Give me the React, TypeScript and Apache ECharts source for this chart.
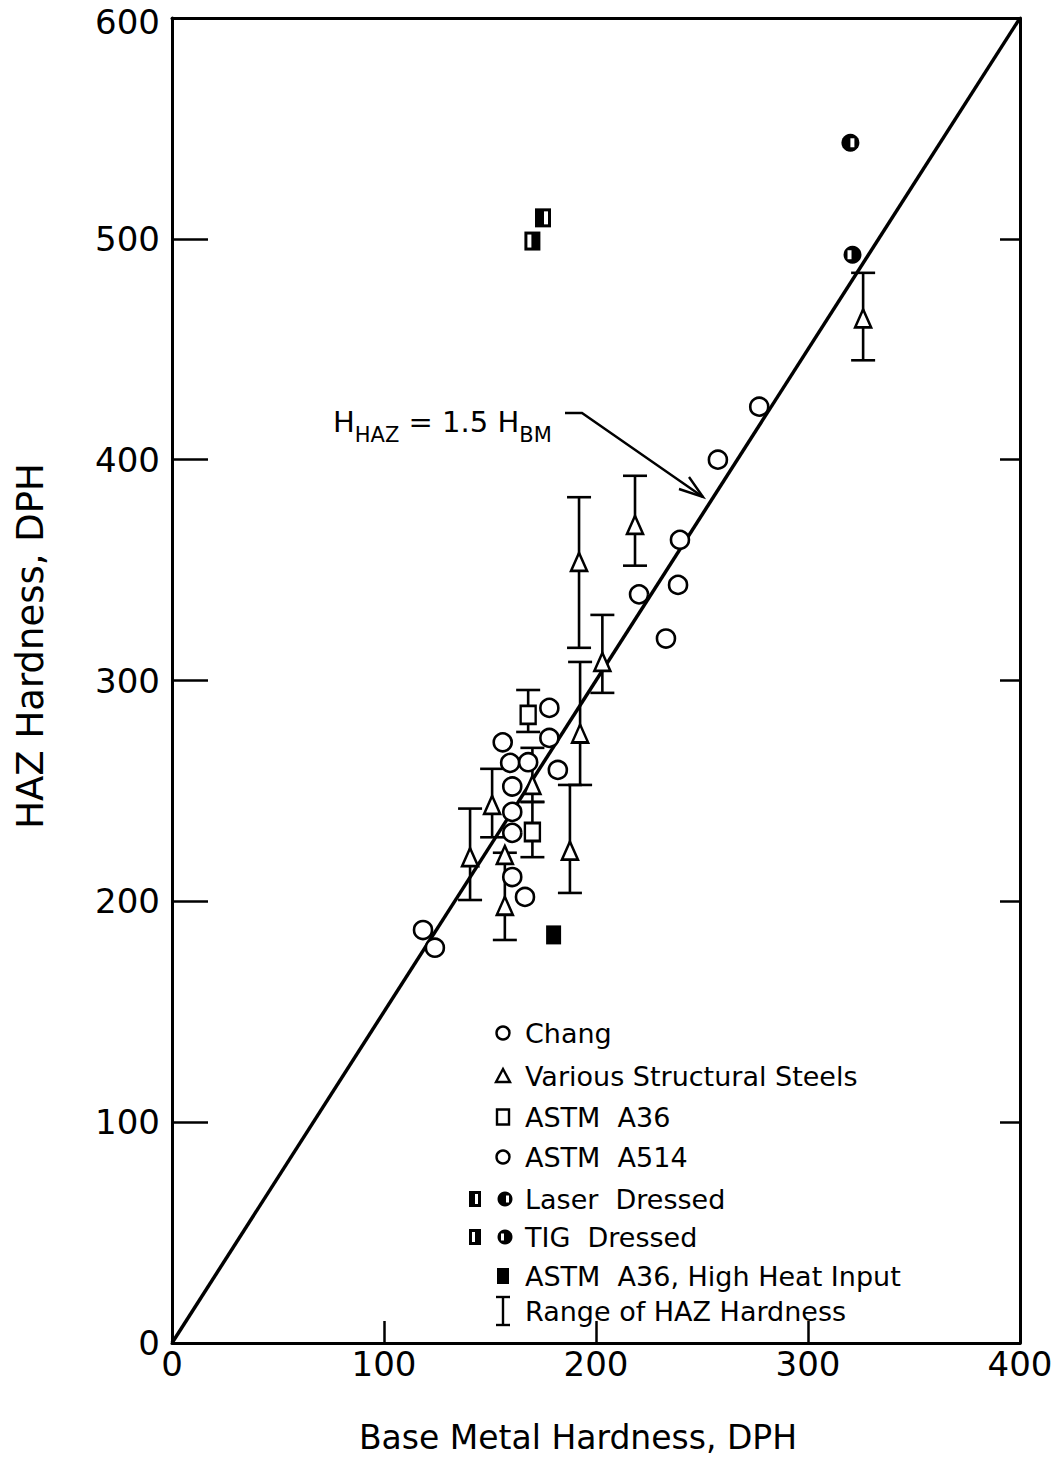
import React, { useEffect, useRef } from "react";
import * as echarts from "echarts";

// ---------- data ----------
const changPts: number[][] = [
  [118.4, 187], [124, 179], [156, 272], [159.5, 262.7], [168, 263], [160.5, 252],
  [160.5, 240.5], [160.5, 231], [160.5, 211], [166.5, 202], [178, 287.6], [178, 274], [182, 259.5],
];
const a514Pts: number[][] = [
  [220.3, 339], [233, 319], [238.7, 343.3], [239.6, 363.7], [257.5, 400], [277, 424],
];
const variousPts: number[][] = [
  [140.6, 220], [151, 243.7], [157, 221], [157, 198], [170, 252.7], [187.7, 223],
  [192.5, 276], [192, 353.7], [203, 308.4], [218.4, 370.5], [326, 464],
];
const variousRanges: number[][] = [
  [140.6, 200.6, 242], [151, 229, 260], [157, 182.5, 222], [170, 245, 269.5],
  [187.7, 203.8, 252.7], [192.5, 252.7, 308.4], [192, 314.8, 383], [203, 294.4, 329.7],
  [218.4, 352, 392.7], [326, 445, 484.6],
];
const a36Pts: number[][] = [[168, 284.4], [170, 231.4]];
const a36Ranges: number[][] = [[168, 276.7, 295.7], [170, 220, 245]];
const highHeatPts: number[][] = [[180, 184.8]];
const laserSquare: number[][] = [[170, 499]];
const laserCircle: number[][] = [[320, 543.5]];
const tigSquare: number[][] = [[175, 509.5]];
const tigCircle: number[][] = [[321, 492.8]];
const fitLine: number[][] = [[0, 0], [400, 600]];
const xTickStep = 100;
const yTickStep = 100;
const yMax = 600;

const FONT = '"DejaVu Sans", sans-serif';
const BLACK = "#000";

const legendRows = [
  { label: "Chang", y: 1033 },
  { label: "Various Structural Steels", y: 1076 },
  { label: "ASTM  A36", y: 1117 },
  { label: "ASTM  A514", y: 1157 },
  { label: "Laser  Dressed", y: 1199 },
  { label: "TIG  Dressed", y: 1237 },
  { label: "ASTM  A36, High Heat Input", y: 1276 },
  { label: "Range of HAZ Hardness", y: 1311 },
];

function errorBarSeries(name: string, data: number[][]) {
  return {
    type: "custom",
    name,
    z: 3,
    data,
    encode: { x: 0, y: [1, 2] },
    renderItem: (_p: any, api: any) => {
      const x = api.value(0), lo = api.value(1), hi = api.value(2);
      const a = api.coord([x, hi]);
      const b = api.coord([x, lo]);
      const w = 12;
      const st = { stroke: BLACK, lineWidth: 2.6 };
      return {
        type: "group",
        children: [
          { type: "line", shape: { x1: a[0], y1: a[1], x2: b[0], y2: b[1] }, style: st },
          { type: "line", shape: { x1: a[0] - w, y1: a[1], x2: a[0] + w, y2: a[1] }, style: st },
          { type: "line", shape: { x1: b[0] - w, y1: b[1], x2: b[0] + w, y2: b[1] }, style: st },
        ],
      };
    },
  };
}

function halfSymbolSeries(name: string, data: number[][], kind: "square" | "circle", slitDx: number) {
  return {
    type: "custom",
    name,
    z: 5,
    data,
    renderItem: (_p: any, api: any) => {
      const c = api.coord([api.value(0), api.value(1)]);
      const base =
        kind === "square"
          ? { type: "rect", shape: { x: c[0] - 8, y: c[1] - 9.5, width: 16, height: 19 }, style: { fill: BLACK } }
          : { type: "circle", shape: { cx: c[0], cy: c[1], r: 9 }, style: { fill: BLACK } };
      const slitH = kind === "square" ? 13 : 9;
      return {
        type: "group",
        children: [
          base,
          { type: "rect", shape: { x: c[0] + slitDx - 2, y: c[1] - slitH / 2, width: 4, height: slitH }, style: { fill: "#fff" } },
        ],
      };
    },
  };
}

function legendGraphics() {
  const items: any[] = [];
  const sx = 503;
  const st = { fill: "#fff", stroke: BLACK, lineWidth: 2.4 };
  const [r0, r1, r2, r3, r4, r5, r6, r7] = legendRows.map((r) => r.y);
  items.push({ type: "circle", shape: { cx: sx, cy: r0, r: 6.5 }, style: st });
  items.push({ type: "polygon", shape: { points: [[sx, r1 - 7], [sx - 7, r1 + 6], [sx + 7, r1 + 6]] }, style: st });
  items.push({ type: "rect", shape: { x: sx - 6, y: r2 - 7.5, width: 12, height: 15 }, style: st });
  items.push({ type: "circle", shape: { cx: sx, cy: r3, r: 6.5 }, style: st });
  // laser
  items.push({ type: "rect", shape: { x: 469, y: r4 - 8, width: 12, height: 16 }, style: { fill: BLACK } });
  items.push({ type: "rect", shape: { x: 475, y: r4 - 5, width: 3, height: 10 }, style: { fill: "#fff" } });
  items.push({ type: "circle", shape: { cx: 505, cy: r4, r: 7.5 }, style: { fill: BLACK } });
  items.push({ type: "rect", shape: { x: 506, y: r4 - 3.5, width: 3, height: 7 }, style: { fill: "#fff" } });
  // tig
  items.push({ type: "rect", shape: { x: 469, y: r5 - 8, width: 12, height: 16 }, style: { fill: BLACK } });
  items.push({ type: "rect", shape: { x: 472, y: r5 - 5, width: 3, height: 10 }, style: { fill: "#fff" } });
  items.push({ type: "circle", shape: { cx: 505, cy: r5, r: 7.5 }, style: { fill: BLACK } });
  items.push({ type: "rect", shape: { x: 501, y: r5 - 3.5, width: 3, height: 7 }, style: { fill: "#fff" } });
  // high heat
  items.push({ type: "rect", shape: { x: sx - 6, y: r6 - 8, width: 12, height: 16 }, style: { fill: BLACK } });
  // range
  const lst = { stroke: BLACK, lineWidth: 2.4 };
  items.push({ type: "line", shape: { x1: sx, y1: r7 - 14, x2: sx, y2: r7 + 14 }, style: lst });
  items.push({ type: "line", shape: { x1: sx - 7, y1: r7 - 14, x2: sx + 7, y2: r7 - 14 }, style: lst });
  items.push({ type: "line", shape: { x1: sx - 7, y1: r7 + 14, x2: sx + 7, y2: r7 + 14 }, style: lst });
  legendRows.forEach((r) => {
    items.push({
      type: "text",
      x: 525,
      y: r.y,
      style: { text: r.label, fontSize: 27, fontFamily: FONT, fill: BLACK, align: "left", verticalAlign: "middle" },
    });
  });
  return items;
}

export default function App() {
  const ref = useRef<HTMLDivElement>(null);
  useEffect(() => {
    if (!ref.current) return;
    const chart = echarts.init(ref.current, undefined, { renderer: "svg" });
    const axisLineStyle = { color: BLACK, width: 3 };
    const labelStyle = { fontSize: 34, color: BLACK, fontFamily: FONT, lineHeight: 30 };
    const markerStyle = { color: "#fff", borderColor: BLACK, borderWidth: 2.6, opacity: 1 };
    chart.setOption({
      animation: false,
      backgroundColor: "#fff",
      grid: { left: 172, top: 18, width: 848, height: 1325, containLabel: false, outerBoundsMode: "none" },
      xAxis: [
        {
          type: "value", min: 0, max: 400, interval: xTickStep, position: "bottom",
          axisLine: { show: true, lineStyle: axisLineStyle },
          axisTick: { show: true, inside: true, length: 22, lineStyle: { color: BLACK, width: 2.5 } },
          axisLabel: { ...labelStyle, margin: 6 },
          splitLine: { show: false },
        },
        {
          type: "value", min: 0, max: 400, position: "top",
          axisLine: { show: true, onZero: false, lineStyle: axisLineStyle },
          axisTick: { show: false }, axisLabel: { show: false }, splitLine: { show: false },
        },
      ],
      yAxis: [
        {
          type: "value", min: 0, max: yMax, interval: yTickStep, position: "left",
          axisLine: { show: true, lineStyle: axisLineStyle },
          axisTick: { show: true, inside: true, length: 36, lineStyle: { color: BLACK, width: 2.5 } },
          axisLabel: {
            ...labelStyle,
            margin: 12,
            formatter: (v: number) => (v === yMax ? `{top|${v}}` : `${v}`),
            rich: {
              top: { fontSize: 34, fontFamily: FONT, color: BLACK, lineHeight: 30, padding: [8, 0, 0, 0] },
            },
          },
          splitLine: { show: false },
        },
        {
          type: "value", min: 0, max: yMax, interval: yTickStep, position: "right",
          axisLine: { show: true, onZero: false, lineStyle: axisLineStyle },
          axisTick: { show: true, inside: true, length: 20, lineStyle: { color: BLACK, width: 2.5 } },
          axisLabel: { show: false }, splitLine: { show: false },
        },
      ],
      series: [
        {
          type: "line", name: "H_HAZ = 1.5 H_BM", data: fitLine, symbol: "none", z: 1,
          lineStyle: { color: BLACK, width: 3.5 },
        },
        errorBarSeries("Range (Various)", variousRanges),
        errorBarSeries("Range (A36)", a36Ranges),
        { type: "scatter", name: "Chang", data: changPts, symbol: "circle", symbolSize: 18, itemStyle: markerStyle, z: 4 },
        { type: "scatter", name: "ASTM A514", data: a514Pts, symbol: "circle", symbolSize: 18, itemStyle: markerStyle, z: 4 },
        { type: "scatter", name: "Various Structural Steels", data: variousPts, symbol: "triangle", symbolSize: [16, 18], itemStyle: markerStyle, z: 4 },
        { type: "scatter", name: "ASTM A36", data: a36Pts, symbol: "rect", symbolSize: [15, 18], itemStyle: markerStyle, z: 4 },
        { type: "scatter", name: "ASTM A36, High Heat Input", data: highHeatPts, symbol: "rect", symbolSize: [15, 19], itemStyle: { color: BLACK, opacity: 1 }, z: 4 },
        halfSymbolSeries("Laser Dressed (square)", laserSquare, "square", -3),
        halfSymbolSeries("Laser Dressed (circle)", laserCircle, "circle", 2),
        halfSymbolSeries("TIG Dressed (square)", tigSquare, "square", 3),
        halfSymbolSeries("TIG Dressed (circle)", tigCircle, "circle", -3),
      ],
      graphic: [
        {
          type: "text", x: 30, y: 646, rotation: Math.PI / 2,
          style: { text: "HAZ Hardness, DPH", fontSize: 37, fontFamily: FONT, fill: BLACK, align: "center", verticalAlign: "middle" },
        },
        {
          type: "text", x: 578, y: 1437,
          style: { text: "Base Metal Hardness, DPH", fontSize: 33, fontFamily: FONT, fill: BLACK, align: "center", verticalAlign: "middle" },
        },
        {
          type: "text", x: 333, y: 422,
          style: {
            text: "{h|H}{s|HAZ}{h| = 1.5 H}{s|BM}",
            fontFamily: FONT, fill: BLACK, align: "left", verticalAlign: "middle",
            rich: {
              h: { fontSize: 29, fontFamily: FONT, fill: BLACK, lineHeight: 46, verticalAlign: "middle" },
              s: { fontSize: 21, fontFamily: FONT, fill: BLACK, lineHeight: 46, verticalAlign: "bottom", padding: [12, 0, 0, 0] },
            },
          },
        },
        {
          type: "polyline",
          shape: { points: [[565, 413], [582, 413], [703, 497]] },
          style: { stroke: BLACK, lineWidth: 2.4, fill: "none" },
        },
        {
          type: "polyline",
          shape: { points: [[679, 489], [703, 497], [689, 477]] },
          style: { stroke: BLACK, lineWidth: 2.4, fill: "none" },
        },
        ...legendGraphics(),
      ],
    });
    return () => chart.dispose();
  }, []);
  return (
    <div
      ref={ref}
      style={{ position: "absolute", left: 0, top: 0, width: 1057, height: 1462, background: "#fff" }}
    />
  );
}
